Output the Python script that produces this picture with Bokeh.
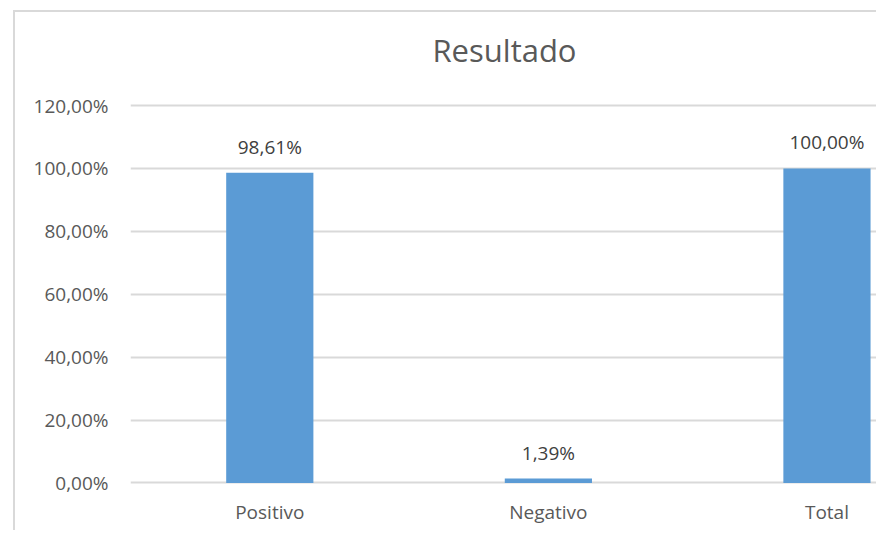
from bokeh.plotting import figure
from bokeh.models import ColumnDataSource, FixedTicker, CustomJSTickFormatter
from bokeh.core.properties import value
from bokeh.embed import file_html
from bokeh.resources import INLINE

title_text = "Resultado"
categories = ["Positivo", "Negativo", "Total"]
values = [0.9861, 0.0139, 1.0000]
y_ticks = [0.0, 0.2, 0.4, 0.6, 0.8, 1.0, 1.2]

labels = [("%.2f" % (v * 100)).replace(".", ",") + "%" for v in values]
xs = list(range(len(categories)))
src = ColumnDataSource(dict(x=xs, top=values, label=labels))

FONT = "Open Sans"
GRAY = "#595959"

Y_END = 1.496
p = figure(width=863, height=520, output_backend="svg", toolbar_location=None,
           x_range=(-0.5, 2.185), y_range=(-0.005, Y_END),
           min_border_left=115, min_border_top=0, min_border_bottom=48, min_border_right=0)
p.margin = (10, 0, 0, 13)
p.styles = {"border-left": "2px solid #d9d9d9", "border-top": "2px solid #d9d9d9"}
p.outline_line_color = None

# chart title, centred in the space above the 120% gridline
p.text(x=[(p.x_range.start + p.x_range.end) / 2], y=[(1.2 + Y_END) / 2 + 0.03], text=[title_text],
       text_align="center", text_baseline="middle", text_font=value(FONT),
       text_font_size="31px", text_color=GRAY)

p.vbar(x="x", top="top", width=0.313, bottom=0, source=src, fill_color="#5B9BD5", line_color=None)
p.text(x="x", y="top", text="label", source=src, text_align="center", text_baseline="bottom",
       y_offset=-13, text_font=value(FONT), text_font_size="19px", text_color="#404040")

p.xgrid.grid_line_color = None
p.ygrid.grid_line_color = "#d9d9d9"
p.ygrid.grid_line_width = 2
p.ygrid.ticker = FixedTicker(ticks=y_ticks)

p.yaxis.ticker = FixedTicker(ticks=y_ticks)
p.yaxis.formatter = CustomJSTickFormatter(code="return (tick*100).toFixed(2).replace('.', ',') + '%';")
p.yaxis.axis_line_color = None
p.yaxis.major_tick_line_color = None
p.yaxis.minor_tick_line_color = None
p.yaxis.major_label_standoff = 16
p.yaxis.major_label_text_font = FONT
p.yaxis.major_label_text_font_size = "19px"
p.yaxis.major_label_text_color = GRAY

p.xaxis.ticker = FixedTicker(ticks=xs)
p.xaxis.major_label_overrides = {i: c for i, c in enumerate(categories)}
p.xaxis.axis_line_color = None
p.xaxis.major_tick_line_color = None
p.xaxis.minor_tick_line_color = None
p.xaxis.major_label_standoff = 8
p.xaxis.major_label_text_font = FONT
p.xaxis.major_label_text_font_size = "19px"
p.xaxis.major_label_text_color = GRAY

open("out.html", "w").write(file_html(p, INLINE))
